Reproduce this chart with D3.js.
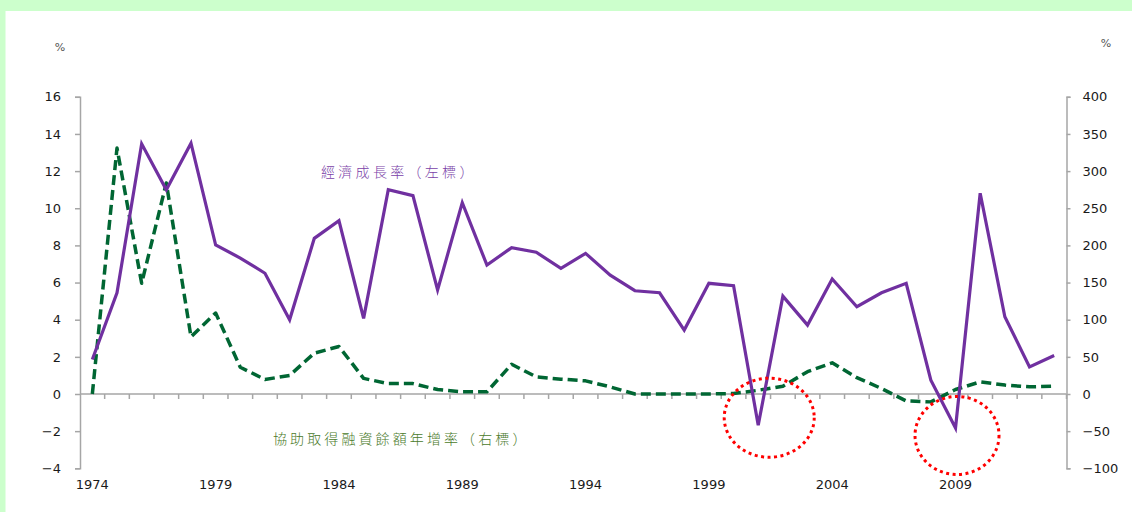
<!DOCTYPE html>
<html>
<head>
<meta charset="utf-8">
<script src="https://cdn.jsdelivr.net/npm/d3@7/dist/d3.min.js"></script>
<style>
  html, body { margin: 0; padding: 0; background: #ffffff; }
  svg { display: block; }
  text { font-family: "DejaVu Sans", Verdana, sans-serif; }
</style>
</head>
<body>
<svg id="chart" width="1132" height="512"></svg>
<script>
// Years on the category axis
const years = d3.range(1974, 2014);
// Economic growth rate, % (left axis)
const growthRate = [1.86, 5.45, 13.47, 10.99, 13.5, 8.02, 7.32, 6.5, 4.0, 8.38,
  9.33, 4.07, 11.0, 10.68, 5.6, 10.3, 6.94, 7.88, 7.63, 6.77,
  7.57, 6.4, 5.56, 5.45, 3.44, 5.96, 5.83, -1.68, 5.27, 3.71,
  6.19, 4.7, 5.45, 5.96, 0.74, -1.83, 10.81, 4.16, 1.46, 2.07];
// Annual growth of assisted financing balance, % (right axis)
const financingGrowth = [0, 331, 149, 284, 77, 109, 36, 19.5, 25, 55,
  64, 21, 14, 14, 6, 3, 3, 40, 23, 20,
  17.7, 9.6, 0, 0, 0, 0, 0.7, 5, 10.5, 30,
  42, 22, 7.4, -9.3, -10.6, 6, 16.3, 12, 9.6, 10.5];
const leftTicks = [-4, -2, 0, 2, 4, 6, 8, 10, 12, 14, 16];
const rightTicks = [-100, -50, 0, 50, 100, 150, 200, 250, 300, 350, 400];
const yearLabels = [1974, 1979, 1984, 1989, 1994, 1999, 2004, 2009];
// Highlighted downturn years
const highlightYears = [2001, 2009];

const svg = d3.select("#chart");

// page frame bands
svg.append("rect").attr("x", 0).attr("y", 0).attr("width", 1132).attr("height", 11).attr("fill", "#ccffcc");
svg.append("rect").attr("x", 0).attr("y", 0).attr("width", 5.5).attr("height", 512).attr("fill", "#ccffcc");

const x = d3.scaleBand().domain(years).range([80, 1066.5]).paddingInner(0).paddingOuter(0);
const cx = d => x(d) + x.bandwidth() / 2;
const yL = d3.scaleLinear().domain([-4, 16]).range([468.3, 96.8]);
const yR = d3.scaleLinear().domain([-100, 400]).range([468.3, 96.8]);

const axisColor = "#a6a6a6";

// left axis
const gL = svg.append("g").attr("transform", "translate(80,0)")
  .call(d3.axisLeft(yL).tickValues(leftTicks).tickSize(5).tickPadding(14));
// right axis
const gR = svg.append("g").attr("transform", "translate(1066.5,0)")
  .call(d3.axisRight(yR).tickValues(rightTicks).tickSize(4).tickPadding(12));
[gL, gR].forEach(g => {
  g.select(".domain").attr("stroke", axisColor).attr("stroke-width", 1.5);
  g.selectAll(".tick line").attr("stroke", axisColor).attr("stroke-width", 1.5);
  g.selectAll(".tick text").attr("fill", "#1a1a1a").style("font-size", "13px")
    .style("font-family", "'DejaVu Sans', Verdana, sans-serif");
});

// category axis along zero
const y0 = yL(0);
svg.append("line").attr("x1", 80).attr("x2", 1066.5).attr("y1", y0).attr("y2", y0)
  .attr("stroke", axisColor).attr("stroke-width", 1.5);
svg.append("g").selectAll("line").data(years.slice(1).concat(["end"])).join("line")
  .attr("x1", d => d === "end" ? 1066.5 : x(d)).attr("x2", d => d === "end" ? 1066.5 : x(d))
  .attr("y1", y0).attr("y2", y0 + 5)
  .attr("stroke", axisColor).attr("stroke-width", 1.5);
svg.append("g").selectAll("text").data(yearLabels).join("text")
  .attr("x", d => cx(d)).attr("y", 489)
  .attr("text-anchor", "middle").attr("fill", "#1a1a1a").style("font-size", "13px")
  .text(d => d);

// unit labels
svg.append("text").attr("x", 60).attr("y", 51).attr("text-anchor", "middle")
  .attr("fill", "#555").style("font-size", "11px").text("%");
svg.append("text").attr("x", 1106).attr("y", 47).attr("text-anchor", "middle")
  .attr("fill", "#555").style("font-size", "11px").text("%");

// financing growth line (dashed, right axis)
svg.append("path").datum(financingGrowth)
  .attr("fill", "none").attr("stroke", "#006633").attr("stroke-width", 3.5)
  .attr("stroke-dasharray", "10,5").attr("stroke-linejoin", "round")
  .attr("d", d3.line().x((d, i) => cx(years[i])).y(d => yR(d)));

// growth rate line (left axis)
svg.append("path").datum(growthRate)
  .attr("fill", "none").attr("stroke", "#7030a0").attr("stroke-width", 3.2)
  .attr("stroke-linejoin", "miter")
  .attr("d", d3.line().x((d, i) => cx(years[i])).y(d => yL(d)));

// dotted rings around the two downturns
const ringOffsets = [{dx: 11, dy: -7.5, rx: 45, ry: 39.5}, {dx: 1.5, dy: 7.5, rx: 42, ry: 39}];
svg.append("g").selectAll("ellipse").data(highlightYears).join("ellipse")
  .attr("cx", (d, i) => cx(d) + ringOffsets[i].dx)
  .attr("cy", (d, i) => yL(growthRate[years.indexOf(d)]) + ringOffsets[i].dy)
  .attr("rx", (d, i) => ringOffsets[i].rx).attr("ry", (d, i) => ringOffsets[i].ry)
  .attr("fill", "none").attr("stroke", "#ff0000").attr("stroke-width", 3)
  .attr("stroke-dasharray", "3,3.5");

// series labels
svg.append("text").attr("x", 321).attr("y", 177)
  .attr("fill", "#7a3fa8").style("font-size", "14px")
  .style("font-family", "'Noto Sans CJK TC', 'Noto Sans CJK SC', sans-serif")
  .style("font-weight", "300")
  .style("letter-spacing", "3.3px")
  .text("經濟成長率（左標）");
svg.append("text").attr("x", 273).attr("y", 444)
  .attr("fill", "#4a7a2a").style("font-size", "14px")
  .style("font-family", "'Noto Sans CJK TC', 'Noto Sans CJK SC', sans-serif")
  .style("font-weight", "300")
  .style("letter-spacing", "3.1px")
  .text("協助取得融資餘額年增率（右標）");
</script>
</body>
</html>
